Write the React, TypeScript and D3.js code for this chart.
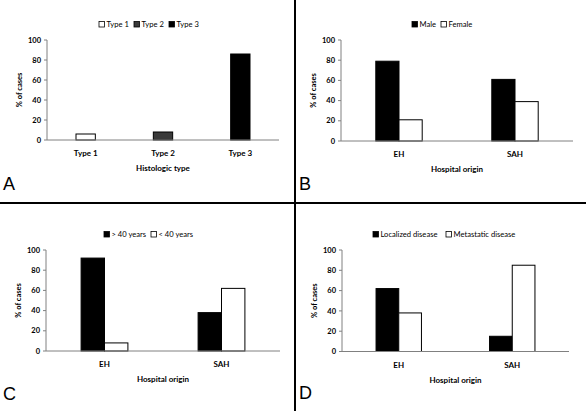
import React from "react";
import * as d3 from "d3";

// ---- Data ----
const histCategories = ["Type 1", "Type 2", "Type 3"];
const histValues = [6, 8, 86];

const hospitalCategories = ["EH", "SAH"];
const sexSeries = ["Male", "Female"];
const sexMale = [79, 61];
const sexFemale = [21, 39];

const ageSeries = ["> 40 years", "< 40 years"];
const ageOver40 = [92, 38];
const ageUnder40 = [8, 62];

const diseaseSeries = ["Localized disease", "Metastatic disease"];
const diseaseLocalized = [62, 15];
const diseaseMetastatic = [38, 85];

const yTicks = [0, 20, 40, 60, 80, 100];

const FONT = "Lato, 'Open Sans', Arial, sans-serif";

type Series = { name: string; values: number[]; fill: string };

type PanelProps = {
  letter: string;
  left: number;
  right: number;
  top: number;
  bottom: number;
  legendXs: number[];
  legendY: number;
  categories: string[];
  series: Series[];
  xTitle: string;
  letterX: number;
  letterY: number;
  single?: boolean;
  barFrac: number;
};

function Panel(p: PanelProps) {
  const y = d3.scaleLinear().domain([0, 100]).range([p.bottom, p.top]);
  const x0 = d3
    .scaleBand<string>()
    .domain(p.categories)
    .range([p.left, p.right])
    .paddingInner(0)
    .paddingOuter(0);
  const groupW = x0.bandwidth() * p.barFrac;
  const x1 = d3
    .scaleBand<number>()
    .domain(p.single ? [0] : p.series.map((_, i) => i))
    .range([0, groupW]);

  const axisColor = "#808080";
  const midY = (p.top + p.bottom) / 2;
  const midX = (p.left + p.right) / 2;

  return (
    <g>
      {/* legend */}
      {p.series.map((s, i) => (
        <g key={i}>
          <rect
            x={p.legendXs[i] + 0.5}
            y={p.legendY - 5.5}
            width={5.5}
            height={5.5}
            fill={s.fill}
            stroke="#000"
            strokeWidth={0.8}
          />
          <text x={p.legendXs[i] + 8} y={p.legendY} fontSize={7.6} fontFamily={FONT} fill="#000">
            {s.name}
          </text>
        </g>
      ))}
      {/* bars */}
      {p.categories.map((c, ci) => {
        const gx = (x0(c) as number) + (x0.bandwidth() - groupW) / 2;
        return p.series.map((s, si) => {
          if (p.single && si !== ci) return null;
          const v = p.single ? s.values[0] : s.values[ci];
          const bx = gx + (x1(p.single ? 0 : si) as number);
          return (
            <rect
              key={`${ci}-${si}`}
              x={bx}
              y={y(v)}
              width={x1.bandwidth()}
              height={y(0) - y(v)}
              fill={s.fill}
              stroke="#000"
              strokeWidth={1}
            />
          );
        });
      })}
      {/* y axis */}
      <line x1={p.left} x2={p.left} y1={p.top} y2={p.bottom} stroke={axisColor} strokeWidth={1} />
      {yTicks.map((t) => (
        <g key={t}>
          <line x1={p.left - 3} x2={p.left} y1={y(t)} y2={y(t)} stroke={axisColor} strokeWidth={1} />
          <text
            x={p.left - 6}
            y={y(t)}
            dy="0.35em"
            textAnchor="end"
            fontSize={7.5}
            fontWeight="bold"
            fontFamily={FONT}
          >
            {t}
          </text>
        </g>
      ))}
      {/* x axis */}
      <line x1={p.left} x2={p.right} y1={p.bottom} y2={p.bottom} stroke={axisColor} strokeWidth={1} />
      {p.categories.map((c) => (
        <text
          key={c}
          x={(x0(c) as number) + x0.bandwidth() / 2}
          y={p.bottom + 16}
          textAnchor="middle"
          fontSize={8}
          fontWeight="bold"
          fontFamily={FONT}
        >
          {c}
        </text>
      ))}
      <text
        x={midX}
        y={p.bottom + 31}
        textAnchor="middle"
        fontSize={8}
        fontWeight="bold"
        fontFamily={FONT}
      >
        {p.xTitle}
      </text>
      <text
        transform={`translate(${p.left - 25},${midY}) rotate(-90)`}
        textAnchor="middle"
        fontSize={7.5}
        fontWeight="bold"
        fontFamily={FONT}
      >
        % of cases
      </text>
      <text x={p.letterX} y={p.letterY} fontSize={18} fontFamily="Arial, 'Liberation Sans', sans-serif">
        {p.letter}
      </text>
    </g>
  );
}

export default function App() {
  const histSeries: Series[] = histCategories.map((c, i) => ({
    name: c,
    values: [histValues[i]],
    fill: ["#ffffff", "#3a3a3a", "#000000"][i],
  }));
  const sex: Series[] = [
    { name: sexSeries[0], values: sexMale, fill: "#000" },
    { name: sexSeries[1], values: sexFemale, fill: "#fff" },
  ];
  const age: Series[] = [
    { name: ageSeries[0], values: ageOver40, fill: "#000" },
    { name: ageSeries[1], values: ageUnder40, fill: "#fff" },
  ];
  const disease: Series[] = [
    { name: diseaseSeries[0], values: diseaseLocalized, fill: "#000" },
    { name: diseaseSeries[1], values: diseaseMetastatic, fill: "#fff" },
  ];

  return (
    <svg
      width={586}
      height={411}
      style={{ position: "absolute", left: 0, top: 0, background: "#fff" }}
    >
      <rect x={0} y={0} width={586} height={411} fill="#fff" />
      <Panel
        letter="A"
        left={47}
        right={279}
        top={40}
        bottom={140}
        legendXs={[98.5, 133.5, 168.5]}
        legendY={27}
        categories={histCategories}
        series={histSeries}
        xTitle="Histologic type"
        letterX={3}
        letterY={190}
        single
        barFrac={0.25}
      />
      <Panel
        letter="B"
        left={341}
        right={573}
        top={40}
        bottom={141}
        legendXs={[411.5, 440.5]}
        legendY={27}
        categories={hospitalCategories}
        series={sex}
        xTitle="Hospital origin"
        letterX={299}
        letterY={190}
        barFrac={0.4}
      />
      <Panel
        letter="C"
        left={46}
        right={280}
        top={250}
        bottom={351}
        legendXs={[103.5, 150.5]}
        legendY={237}
        categories={hospitalCategories}
        series={age}
        xTitle="Hospital origin"
        letterX={3}
        letterY={400}
        barFrac={0.4}
      />
      <Panel
        letter="D"
        left={342}
        right={569}
        top={250}
        bottom={351.5}
        legendXs={[372.5, 445.5]}
        legendY={237}
        categories={hospitalCategories}
        series={disease}
        xTitle="Hospital origin"
        letterX={299}
        letterY={399}
        barFrac={0.4}
      />
      {/* dividers */}
      <line x1={295} x2={295} y1={0} y2={411} stroke="#000" strokeWidth={2} />
      <line x1={0} x2={586} y1={203} y2={203} stroke="#000" strokeWidth={2} />
    </svg>
  );
}
